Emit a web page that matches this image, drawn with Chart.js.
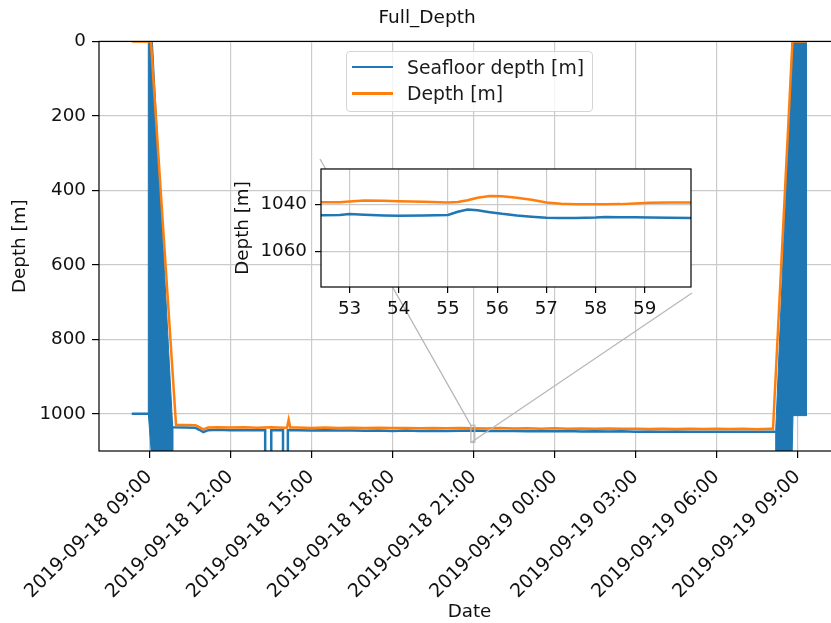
<!DOCTYPE html>
<html>
<head>
<meta charset="utf-8">
<script src="https://cdn.jsdelivr.net/npm/chart.js@4.4.0/dist/chart.umd.min.js"></script>
<style>
    html, body { margin: 0; padding: 0; background: #fff; overflow: hidden; }
    #wrap { position: relative; width: 831px; height: 623px; overflow: hidden; }
    #caixa-principal { position: absolute; left: 0; top: 0; width: 845px; height: 623px; }
    #caixa-inset { position: absolute; left: 225px; top: 150px; width: 480px; height: 180px; }
    #legenda {
        position: absolute; left: 346px; top: 51px; width: 245px; height: 59px;
        border: 1px solid #d5d5d5; border-radius: 4px; background: rgba(255, 255, 255, 0.8);
        font-family: 'DejaVu Sans', sans-serif; font-size: 18.8px; color: #1a1a1a;
    }
    .item { position: absolute; left: 5px; height: 26px; display: flex; align-items: center; white-space: nowrap; }
    .linha { width: 41px; height: 2.5px; margin-right: 14px; }
</style>
</head>
<body>
<div id="wrap">
    <div id="caixa-principal"><canvas id="principal"></canvas></div>
    <div id="caixa-inset"><canvas id="inset"></canvas></div>
    <div id="legenda"></div>
</div>
<script>
// eixo x em horas contadas a partir de 2019-09-18 00:00
const ticksHoras = [9, 12, 15, 18, 21, 24, 27, 30, 33];
const ticksProfundidade = [0, 200, 400, 600, 800, 1000];
const limitesHoras = [7.138, 34.57];
const limitesProfundidade = [0, 1100];

// Depth [m]
const horasDepth = [8.35, 9.06, 9.99, 10.3, 10.7, 10.85, 11.0, 11.18, 11.5, 12.0, 12.5, 13.0, 13.5, 14.0,
    14.1, 14.16, 14.22, 14.5, 15.0, 15.5, 16.0, 16.5, 17.0, 17.5, 18.0, 18.5, 19.0, 19.5, 20.0, 20.5,
    21.0, 21.5, 22.0, 22.5, 23.0, 23.5, 24.0, 24.5, 25.0, 25.5, 26.0, 26.5, 27.0, 27.5, 28.0, 28.5,
    29.0, 29.5, 30.0, 30.5, 31.0, 31.5, 32.0, 32.09, 32.81, 33.33];
const valoresDepth = [0, 0, 1030, 1030, 1030.5, 1036, 1042, 1037, 1036, 1037, 1036.5, 1037.5, 1036.5, 1037.5,
    1037, 1016, 1037, 1037, 1038, 1037, 1038, 1037.5, 1038.5, 1037.5, 1038.5, 1038, 1039, 1038, 1039, 1038.5,
    1039, 1039.5, 1038.5, 1039.5, 1039, 1040, 1039, 1040, 1039.5, 1040.5, 1039.5, 1040.5, 1040, 1041, 1040, 1041,
    1040.5, 1041, 1040, 1041, 1040.5, 1041.5, 1040.5, 1041, 0, 0];

// Seafloor depth [m]
const horasSeafloor = [8.35, 8.963, 9.866, 10.3, 10.7, 10.85, 11.0, 11.18, 11.5, 12.0, 12.5, 13.0,
    13.29, 13.29, 13.515, 13.515, 13.95, 13.95, 14.13, 14.13, 14.5, 15.0, 15.5, 16.0, 16.5, 17.0, 17.5,
    18.0, 18.5, 19.0, 19.5, 20.0, 20.5, 21.0, 21.5, 22.0, 22.5, 23.0, 23.5, 24.0, 24.5, 25.0, 25.5, 26.0,
    26.5, 27.0, 27.5, 28.0, 28.5, 29.0, 29.5, 30.0, 30.5, 31.0, 31.5, 32.0, 32.19];
const valoresSeafloor = [1000, 1000, 1036, 1037, 1037.5, 1043, 1049, 1044, 1043, 1044, 1043.5, 1044.5,
    1044, 1200, 1200, 1044, 1044.5, 1200, 1200, 1044, 1044.5, 1045, 1044, 1045, 1045, 1045.5, 1045,
    1046, 1045, 1046, 1045.5, 1046, 1045.5, 1045, 1046, 1046.5, 1046, 1047, 1046.5, 1047, 1046.5, 1047.5, 1047, 1047.5,
    1047, 1048, 1047.5, 1048, 1047.5, 1048.5, 1048, 1048.5, 1048, 1048.5, 1048, 1048.5, 1048];

// trechos de descida e subida onde o sinal do fundo oscila muito (contorno da mancha)
const descidaHoras = [8.963, 9.10, 9.866, 9.866, 9.174, 8.963, 8.963];
const descidaValores = [-20, -20, 1036, 1200, 1200, 1000, -20];
const subidaHoras = [32.19, 32.19, 32.81, 33.33, 33.33, 32.83, 32.77, 32.19];
const subidaValores = [1200, 1045, -20, -20, 1005, 1005, 1200, 1200];

// janela ampliada no inset
const zoomHoras = [20.905, 21.05];
const zoomProfundidade = [1031, 1077];

// dados do inset
const insetMinutos = [52.42, 52.8, 53.0, 53.3, 53.7, 54.0, 54.5, 55.0, 55.2, 55.4, 55.6, 55.85, 56.1,
    56.4, 56.7, 57.0, 57.3, 57.6, 58.0, 58.2, 58.5, 58.8, 59.1, 59.5, 59.94];
const insetDepth = [1039.2, 1039.2, 1038.9, 1038.5, 1038.6, 1038.8, 1039.0, 1039.3, 1039.1, 1038.4, 1037.3, 1036.6, 1036.7,
    1037.3, 1038.2, 1039.3, 1039.8, 1040.1, 1040.1, 1040.1, 1040.0, 1039.7, 1039.4, 1039.3, 1039.3];
const insetSeafloor = [1044.7, 1044.6, 1044.2, 1044.5, 1044.8, 1044.9, 1044.8, 1044.6, 1043.2, 1042.3, 1042.6, 1043.4, 1044.1,
    1044.8, 1045.3, 1045.7, 1045.8, 1045.8, 1045.6, 1045.4, 1045.5, 1045.5, 1045.6, 1045.7, 1045.8];
const insetTicksX = [53, 54, 55, 56, 57, 58, 59];
const insetTicksY = [1040, 1060];
const insetLimitesX = [52.42, 59.94];
const insetLimitesY = [1025.2, 1074.9];

const azul = '#1f77b4';
const laranja = '#ff7f0e';
const corGrade = '#cbcbcb';

Chart.defaults.font.family = "'DejaVu Sans', sans-serif";
Chart.defaults.font.size = 18.3;
Chart.defaults.color = '#111';

function pontos(xs, ys) {
    return xs.map((x, i) => ({ x: x, y: ys[i] }));
}

function rotuloData(valor) {
    const dia = 18 + Math.floor(valor / 24);
    const hora = valor % 24;
    return `2019-09-${dia} ${String(hora).padStart(2, '0')}:00`;
}

// sem separador de milhar nos números dos eixos
const numeroSimples = v => String(v);

// fundo branco e moldura do inset
const molduraInset = {
    id: 'molduraInset',
    beforeDraw(chart) {
        const a = chart.chartArea;
        chart.ctx.save();
        chart.ctx.fillStyle = '#fff';
        chart.ctx.fillRect(a.left, a.top, a.right - a.left, a.bottom - a.top);
        chart.ctx.restore();
    },
    afterDatasetsDraw(chart) {
        const a = chart.chartArea;
        chart.ctx.save();
        chart.ctx.strokeStyle = '#000';
        chart.ctx.lineWidth = 1.2;
        chart.ctx.strokeRect(a.left, a.top, a.right - a.left, a.bottom - a.top);
        chart.ctx.restore();
    }
};

const inset = new Chart(document.getElementById('inset'), {
    type: 'line',
    data: {
        datasets: [
            { data: pontos(insetMinutos, insetSeafloor), borderColor: azul, borderWidth: 2.5, pointRadius: 0, order: 1 },
            { data: pontos(insetMinutos, insetDepth), borderColor: laranja, borderWidth: 2.5, pointRadius: 0, order: 0 }
        ]
    },
    options: {
        responsive: true,
        maintainAspectRatio: false,
        animation: false,
        events: [],
        layout: { padding: { top: 14, right: 14, left: 0, bottom: 0 } },
        plugins: { legend: { display: false }, tooltip: { enabled: false } },
        scales: {
            x: {
                type: 'linear', min: insetLimitesX[0], max: insetLimitesX[1],
                afterBuildTicks: s => { s.ticks = insetTicksX.map(v => ({ value: v })); },
                afterFit: s => { s.height = 43; },
                ticks: { autoSkip: false, maxRotation: 0, padding: 5, callback: numeroSimples },
                grid: { color: corGrade, lineWidth: 1.2, tickColor: '#000', tickLength: 6 },
                border: { display: false }
            },
            y: {
                type: 'linear', reverse: true, min: insetLimitesY[0], max: insetLimitesY[1],
                afterBuildTicks: s => { s.ticks = insetTicksY.map(v => ({ value: v })); },
                afterFit: s => { s.width = 96; },
                ticks: { padding: 8, callback: numeroSimples },
                grid: { color: corGrade, lineWidth: 1.2, tickColor: '#000', tickLength: 6 },
                border: { display: false },
                title: { display: true, text: 'Depth [m]', padding: { top: 7, bottom: 0 } }
            }
        }
    },
    plugins: [molduraInset]
});

const caixaInset = document.getElementById('caixa-inset');
const areaInset = {
    left: caixaInset.offsetLeft + inset.chartArea.left,
    top: caixaInset.offsetTop + inset.chartArea.top,
    right: caixaInset.offsetLeft + inset.chartArea.right,
    bottom: caixaInset.offsetTop + inset.chartArea.bottom
};

// moldura do gráfico principal, caixa do zoom e linhas de ligação
const molduraPrincipal = {
    id: 'molduraPrincipal',
    afterDatasetsDraw(chart) {
        const { ctx, chartArea: a, scales: { x, y } } = chart;
        const bx0 = x.getPixelForValue(zoomHoras[0]);
        const bx1 = x.getPixelForValue(zoomHoras[1]);
        const by0 = y.getPixelForValue(zoomProfundidade[0]);
        const by1 = y.getPixelForValue(zoomProfundidade[1]);
        ctx.save();
        ctx.strokeStyle = '#b8b8b8';
        ctx.lineWidth = 1.3;
        ctx.strokeRect(bx0, by0, bx1 - bx0, by1 - by0);
        ctx.beginPath();
        ctx.moveTo(bx0, by0);
        ctx.lineTo(areaInset.left - 1, areaInset.top - 10);
        ctx.moveTo(bx0, by1);
        ctx.lineTo(areaInset.right + 1, areaInset.bottom + 6);
        ctx.stroke();
        ctx.strokeStyle = '#000';
        ctx.lineWidth = 1.2;
        ctx.strokeRect(a.left, a.top, a.right - a.left, a.bottom - a.top);
        ctx.restore();
    }
};

const principal = new Chart(document.getElementById('principal'), {
    type: 'line',
    data: {
        datasets: [
            { label: 'Seafloor depth [m]', data: pontos(horasSeafloor, valoresSeafloor), borderColor: azul, backgroundColor: azul, borderWidth: 2.5, pointRadius: 0, order: 2 },
            { data: pontos(descidaHoras, descidaValores), borderColor: azul, backgroundColor: azul, borderWidth: 1, pointRadius: 0, fill: 'shape', order: 3 },
            { data: pontos(subidaHoras, subidaValores), borderColor: azul, backgroundColor: azul, borderWidth: 1, pointRadius: 0, fill: 'shape', order: 3 },
            { label: 'Depth [m]', data: pontos(horasDepth, valoresDepth), borderColor: laranja, backgroundColor: laranja, borderWidth: 2.5, pointRadius: 0, order: 0 }
        ]
    },
    options: {
        responsive: true,
        maintainAspectRatio: false,
        animation: false,
        events: [],
        layout: { padding: { top: 0, right: 5, left: 14, bottom: 0 } },
        plugins: {
            legend: { display: false },
            tooltip: { enabled: false },
            title: { display: true, text: 'Full_Depth', color: '#111', font: { size: 18.5, weight: 'normal' }, padding: { top: 7, bottom: 12.2 } }
        },
        scales: {
            x: {
                type: 'linear', min: limitesHoras[0], max: limitesHoras[1],
                afterBuildTicks: s => { s.ticks = ticksHoras.map(v => ({ value: v })); },
                afterFit: s => { s.height = 172; },
                ticks: { autoSkip: false, minRotation: 45, maxRotation: 45, padding: 8, font: { size: 19 }, callback: v => rotuloData(v) },
                grid: { color: corGrade, lineWidth: 1.2, tickColor: '#000', tickLength: 7 },
                border: { display: false },
                title: { display: true, text: 'Date', padding: { top: 0, bottom: 0 } }
            },
            y: {
                type: 'linear', reverse: true, min: limitesProfundidade[0], max: limitesProfundidade[1],
                afterBuildTicks: s => { s.ticks = ticksProfundidade.map(v => ({ value: v })); },
                afterFit: s => { s.width = 85; },
                ticks: { padding: 6, callback: numeroSimples },
                grid: { color: corGrade, lineWidth: 1.2, tickColor: '#000', tickLength: 7 },
                border: { display: false },
                title: { display: true, text: 'Depth [m]', padding: { top: -4.3, bottom: 0 } }
            }
        }
    },
    plugins: [molduraPrincipal]
});

// legenda em html, montada a partir das séries que têm nome
const legenda = document.getElementById('legenda');
principal.data.datasets.filter(d => d.label).forEach((d, i) => {
    legenda.innerHTML += `<div class="item" style="top:${2 + i * 26.7}px">
        <span class="linha" style="background:${d.borderColor}"></span>${d.label}</div>`;
});
</script>
</body>
</html>
